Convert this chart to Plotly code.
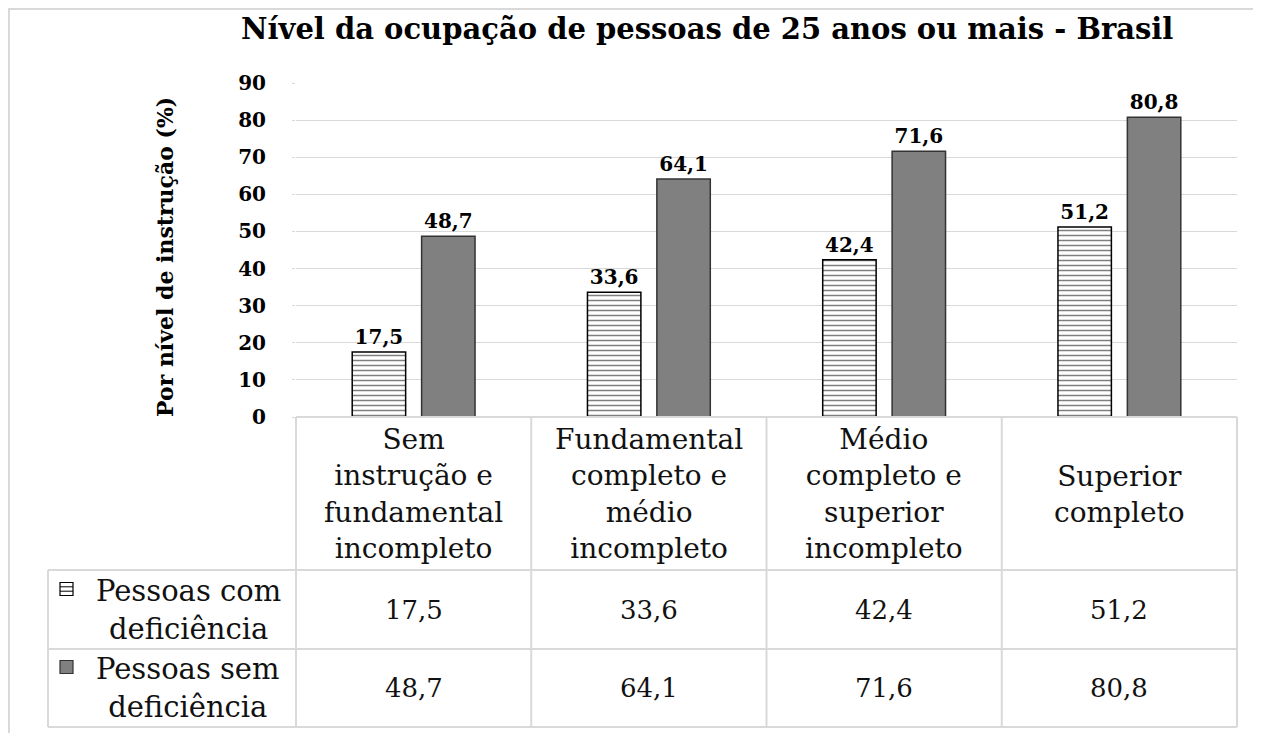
import plotly.graph_objects as go

categories = ["Sem<br>instrução e<br>fundamental<br>incompleto",
              "Fundamental<br>completo e<br>médio<br>incompleto",
              "Médio<br>completo e<br>superior<br>incompleto",
              "Superior<br>completo"]
cat_keys = ["c1", "c2", "c3", "c4"]
com_def = [17.5, 33.6, 42.4, 51.2]
sem_def = [48.7, 64.1, 71.6, 80.8]
series_names = ["Pessoas com<br>deficiência", "Pessoas sem<br>deficiência"]
title_text = "Nível da ocupação de pessoas de 25 anos ou mais - Brasil"
y_title = "Por nível de instrução (%)"

OFF = 8  # page body margin
W, H = 1261 - OFF, 733 - OFF
L, R, T, B = 296 - OFF, 1237 - OFF, 83 - OFF, 417 - OFF
FONT = "DejaVu Serif"

def px(X):
    return (X - OFF - L) / (R - L)

def py(Y):
    return (B - (Y - OFF)) / (B - T)

fig = go.Figure()
fig.add_trace(go.Bar(
    x=cat_keys, y=com_def, name=series_names[0],
    marker=dict(color="white", line=dict(color="black", width=1.5),
                pattern=dict(shape="-", fgcolor="black", bgcolor="white",
                             size=5, solidity=0.3)),
    texttemplate="<b>%{y:.1f}</b>", textposition="outside", cliponaxis=False,
    textfont=dict(family=FONT, size=20, color="black"),
))
fig.add_trace(go.Bar(
    x=cat_keys, y=sem_def, name=series_names[1],
    marker=dict(color="#808080", line=dict(color="#333333", width=1.5)),
    texttemplate="<b>%{y:.1f}</b>", textposition="outside", cliponaxis=False,
    textfont=dict(family=FONT, size=20, color="black"),
))

shapes = []
grid = "#d9d9d9"
shapes.append(dict(type="rect", xref="paper", yref="paper",
                   x0=px(OFF + 1), x1=px(1290), y0=py(OFF + 1), y1=py(780),
                   line=dict(color=grid, width=2), layer="below"))
for Y, x0 in [(417, 296), (570, 48), (649, 48), (727, 48)]:
    shapes.append(dict(type="line", xref="paper", yref="paper",
                       x0=px(x0), x1=px(1237), y0=py(Y), y1=py(Y),
                       line=dict(color=grid, width=2)))
colw = (1237 - 296) / 4
for i in range(5):
    X = 296 + i * colw
    shapes.append(dict(type="line", xref="paper", yref="paper",
                       x0=px(X), x1=px(X), y0=py(417), y1=py(727),
                       line=dict(color=grid, width=2)))
shapes.append(dict(type="line", xref="paper", yref="paper",
                   x0=px(48), x1=px(48), y0=py(570), y1=py(727),
                   line=dict(color=grid, width=2)))
for cy, kind in [(589, "pat"), (667, "solid")]:
    x0, x1, y0, y1 = 60, 73, cy - 6.5, cy + 6.5
    if kind == "pat":
        shapes.append(dict(type="rect", xref="paper", yref="paper",
                           x0=px(x0), x1=px(x1), y0=py(y0), y1=py(y1),
                           line=dict(color="black", width=1.2), fillcolor="white"))
        for yy in (cy - 2.2, cy + 2.2):
            shapes.append(dict(type="line", xref="paper", yref="paper",
                               x0=px(x0), x1=px(x1), y0=py(yy), y1=py(yy),
                               line=dict(color="black", width=1)))
    else:
        shapes.append(dict(type="rect", xref="paper", yref="paper",
                           x0=px(x0), x1=px(x1), y0=py(y0), y1=py(y1),
                           line=dict(color="#333333", width=1.2), fillcolor="#808080"))

annotations = []
annotations.append(dict(text=f"<b>{title_text}</b>", xref="paper", yref="paper",
                        x=px(707), y=py(29), xanchor="center", yanchor="middle",
                        showarrow=False,
                        font=dict(family=FONT, size=29, color="black")))
annotations.append(dict(text=f"<b>{y_title}</b>", xref="paper", yref="paper",
                        x=px(165), y=py(257), xanchor="center", yanchor="middle",
                        showarrow=False, textangle=-90,
                        font=dict(family=FONT, size=22, color="black")))
for k, lab in zip(cat_keys, categories):
    annotations.append(dict(text=lab, x=k, xref="x", yref="paper", y=py(494),
                            xanchor="center", yanchor="middle", showarrow=False,
                            font=dict(family=FONT, size=28, color="#111111")))
for rowY, vals, name in [(609.5, com_def, series_names[0]), (688, sem_def, series_names[1])]:
    for k, v in zip(cat_keys, vals):
        annotations.append(dict(text=f"{v:.1f}".replace(".", ","), x=k, xref="x",
                                yref="paper", y=py(rowY), xanchor="center",
                                yanchor="middle", showarrow=False,
                                font=dict(family=FONT, size=26, color="#111111")))
    annotations.append(dict(text=name, xref="paper", yref="paper", x=px(188),
                            y=py(rowY), xanchor="center", yanchor="middle",
                            showarrow=False, align="center",
                            font=dict(family=FONT, size=29, color="#111111")))

fig.update_layout(
    width=W, height=H,
    margin=dict(l=L, r=W - R, t=T, b=H - B, pad=0),
    paper_bgcolor="white", plot_bgcolor="white",
    barmode="group", bargap=0.41, bargroupgap=0.23,
    separators=",.",
    showlegend=False,
    font=dict(family=FONT, color="black"),
    shapes=shapes, annotations=annotations,
    xaxis=dict(showticklabels=False, showgrid=False, zeroline=False,
               showline=False, ticks=""),
    yaxis=dict(range=[0, 90], dtick=10, showgrid=True, gridcolor=grid, gridwidth=1,
               zeroline=False, showline=False, ticks="outside", ticklen=3,
               tickcolor=grid, ticklabelstandoff=22, tickprefix="<b>", ticksuffix="</b>",
               tickfont=dict(family=FONT, size=20, color="black")),
)

fig.write_html("out.html")
